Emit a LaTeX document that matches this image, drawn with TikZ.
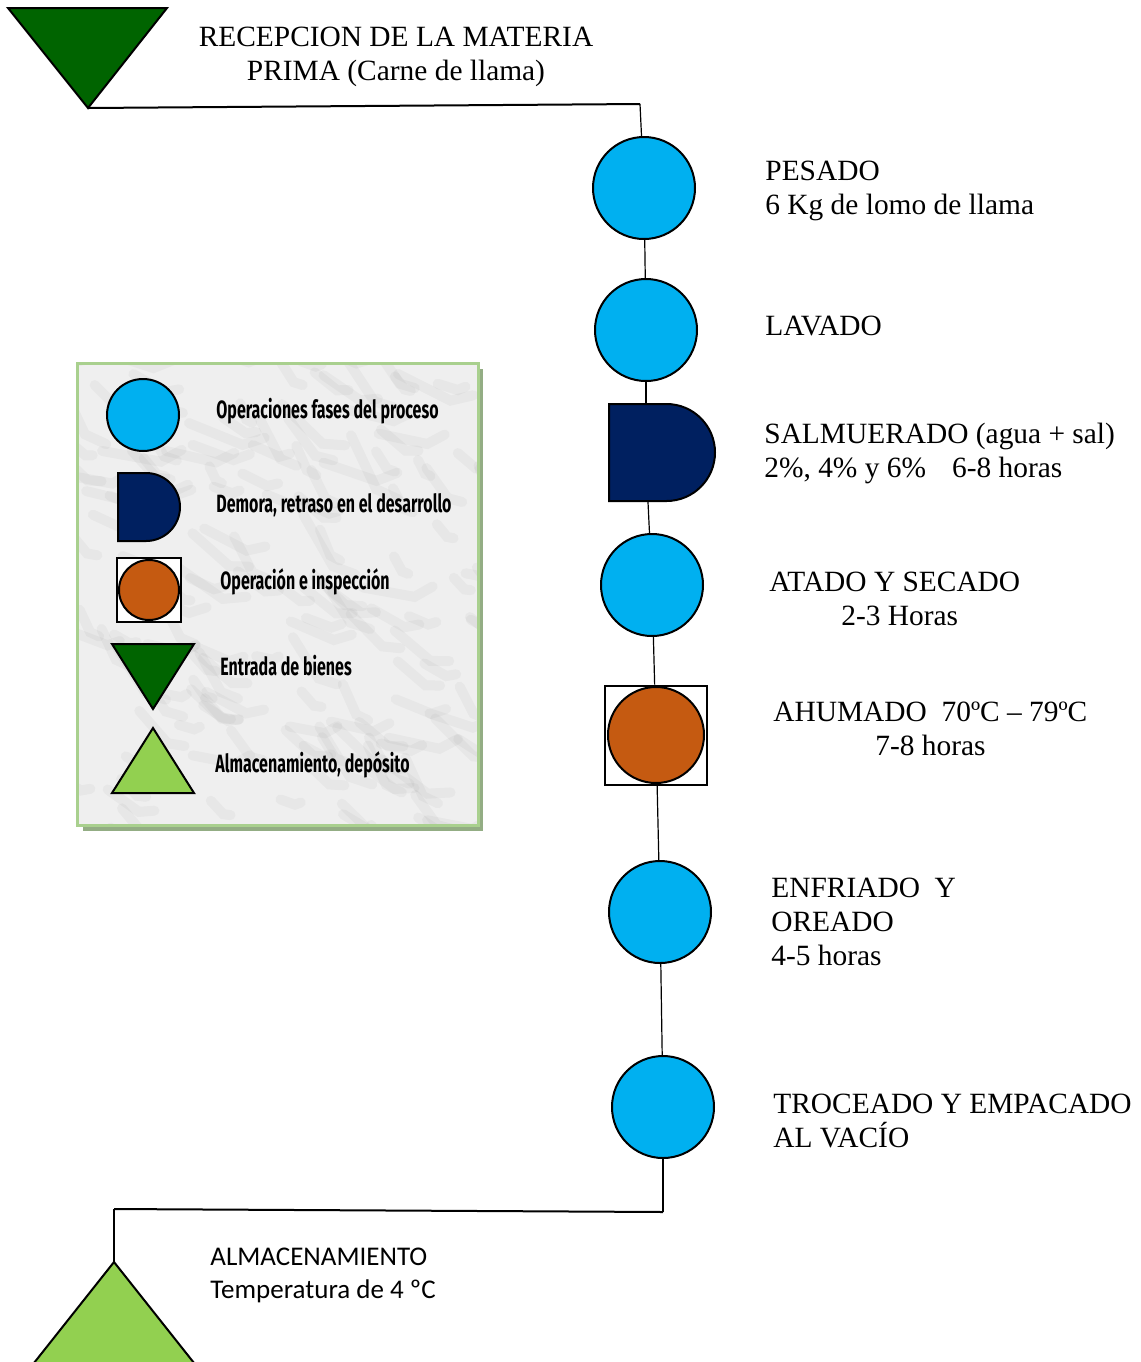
\documentclass[tikz,border=0pt]{standalone}
\usepackage{fontspec}
\setmainfont{Liberation Serif}
\newfontfamily\calibri{Carlito}
\newfontfamily\legfont[FakeStretch=0.64]{Fira Sans}
\usetikzlibrary{shapes.misc,positioning}
\definecolor{opblue}{HTML}{00B0F0}
\definecolor{navy}{HTML}{002060}
\definecolor{inspor}{HTML}{C55A11}
\definecolor{entgreen}{HTML}{006400}
\definecolor{almgreen}{HTML}{92D050}
\definecolor{legframe}{HTML}{A9D08E}
\definecolor{legshadow}{HTML}{93AD84}
\definecolor{marble}{HTML}{EFEFEF}

\begin{document}
\begin{tikzpicture}[x=0.5pt,y=-0.5pt,
  oper/.style={circle,draw,line width=1pt,fill=opblue,minimum size=51pt,inner sep=0pt},
  demora/.style={rounded rectangle,rounded rectangle left arc=none,draw,line width=1pt,
    fill=navy,minimum width=53pt,minimum height=48.5pt,inner sep=0pt},
  insp/.style={rectangle,draw,line width=1pt,fill=white,minimum width=51pt,minimum height=49.5pt,inner sep=0pt},
  inspc/.style={circle,draw,line width=1pt,fill=inspor,minimum size=48pt,inner sep=0pt},
  lbl/.style={anchor=west,align=left,inner sep=0pt,font=\fontsize{14.7}{17}\selectfont},
  leg/.style={anchor=west,inner sep=0pt,font=\legfont\bfseries\fontsize{12.5}{14}\selectfont},
  flow/.style={line width=0.6pt}]
\useasboundingbox (0,0) rectangle (1141,1362);

% leyenda
\fill[legshadow] (83,369) rectangle (483,831);
\begin{scope}
  \clip (77,363) rectangle (478,825);
  \fill[marble] (77,363) rectangle (478,825);
  \pgfmathsetseed{11}
  \foreach \k in {1,...,160}{
    \pgfmathsetmacro\mx{60+430*rnd}
    \pgfmathsetmacro\my{350+490*rnd}
    \pgfmathsetmacro\ma{10+60*rnd}
    \pgfmathsetmacro\ml{15+45*rnd}
    \draw[gray,opacity=0.07,line width=5pt,line cap=round] (\mx,\my) -- ++(\ma:\ml) -- ++(\ma-40:0.4*\ml);
  }
\end{scope}
\draw[legframe,line width=1.5pt] (77,363) rectangle (478,825);

\node[oper,minimum size=36pt] (lop) at (143,415) {};
\filldraw[fill=navy,line width=1pt] (118,473) -- (146,473) arc (-90:90:34) -- (118,541) -- cycle;
\node[insp,minimum size=32pt] (lins) at (149,590) {};
\node[inspc,minimum size=30pt] (linsc) at (lins.center) {};
\filldraw[fill=entgreen,line width=1pt] (112,644) -- (194,644) -- (153,709) -- cycle;
\filldraw[fill=almgreen,line width=1pt] (153,728) -- (194,793) -- (112,793) -- cycle;

\node[leg] (tlop) at (216,411) {Operaciones fases del proceso};
\node[leg] (tldem) at (216,505) {Demora, retraso en el desarrollo};
\node[leg] (tlins) at (220,582) {Operación e inspección};
\node[leg] (tlent) at (220,666) {Entrada de bienes};
\node[leg] (tlalm) at (215,765) {Almacenamiento, depósito};

% diagrama de flujo
\filldraw[fill=entgreen,line width=1pt] (8,8) -- (167,8) -- (88,108) -- cycle;
\coordinate (ent) at (88,108);
\coordinate (k1) at (640,104);
\node[oper] (pes) at (644,188) {};
\node[oper] (lav) at (646,330) {};
\node[demora] (sal) at (662,452.5) {};
\node[oper] (ata) at (652,585) {};
\node[insp] (ahu) at (656,735) {};
\node[inspc] (ahuc) at (ahu.center) {};
\node[oper] (enf) at (660,912) {};
\node[oper] (tro) at (663,1107) {};
\coordinate (k2) at (663,1212);
\coordinate (k3) at (114,1209);
\coordinate (alm) at (114,1262);
\filldraw[fill=almgreen,line width=1pt] (alm) -- (198,1368) -- (30,1368) -- cycle;

\draw[line width=1pt] (ent) -- (k1);
\draw[flow] (k1) -- (pes);
\draw[flow] (pes) -- (lav);
\draw[flow] (lav) -- (lav |- sal.north);
\draw[flow] ([xshift=-2pt]ata |- sal.south) -- (ata);
\draw[flow] (ata) -- (ahu);
\draw[flow] (ahu) -- (enf);
\draw[flow] (enf) -- (tro);
\draw[flow] (tro) -- (k2);
\draw[line width=1pt] (k2) -- (k3);
\draw[flow] (k3) -- (alm);

% textos
\node[lbl,anchor=center,align=center] (trec) at (396,57) {RECEPCION DE LA MATERIA\\PRIMA (Carne de llama)};
\node[lbl] (tpes) at (765,191) {PESADO\\6 Kg de lomo de llama};
\node[lbl] (tlav) at (765,326) {LAVADO};
\node[lbl] (tsal) at (764,453) {SALMUERADO (agua + sal)\\2\%, 4\% y 6\%\hspace{13pt}6-8 horas};
\node[lbl] (tata) at (769,599) {ATADO Y SECADO\\\hspace*{36pt}2-3 Horas};
\node[lbl] (tahu) at (773,729) {AHUMADO\ \ 70ºC – 79ºC\\\hspace*{51pt}7-8 horas};
\node[lbl] (tenf) at (771,922) {ENFRIADO\ \ Y\\OREADO\\4-5 horas};
\node[lbl] (ttro) at (773,1121) {TROCEADO Y EMPACADO\\AL VACÍO};
\node[lbl,font=\calibri\fontsize{13.5}{16.5}\selectfont] (talm) at (210,1275) {ALMACENAMIENTO\\Temperatura de 4 ºC};
\end{tikzpicture}
\end{document}
